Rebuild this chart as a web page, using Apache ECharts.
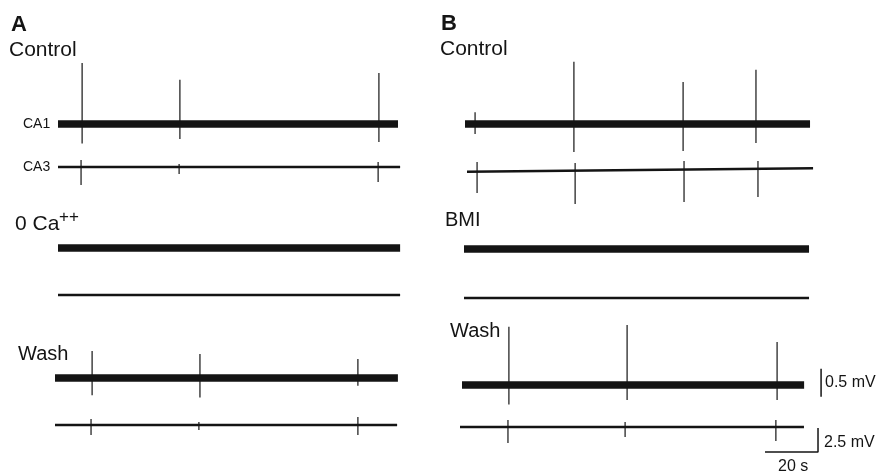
<!DOCTYPE html>
<html>
<head>
<meta charset="utf-8">
<script src="https://cdn.jsdelivr.net/npm/echarts@6/dist/echarts.min.js"></script>
<style>
html, body { margin: 0; background: #fff; }
#chart { width: 877px; height: 472px; }
</style>
</head>
<body>
<div id="chart"></div>
<script>
// times in s, amplitudes in mV (CA1 field, CA3 field)
var sweepDurA = [128.3, 129.1, 129.1, 129.1, 129.4, 129.1];
var sweepDurB = [130.2, 130.6, 130.2, 130.2, 129.1, 129.8];

// A - Control
var aCtrlCA1T = [9.1, 46.0, 121.1];
var aCtrlCA1Hi = [1.09, 0.79, 0.91];
var aCtrlCA1Lo = [-0.35, -0.27, -0.32];
var aCtrlCA3T = [8.7, 45.7, 120.8];
var aCtrlCA3Hi = [0.73, 0.32, 0.52];
var aCtrlCA3Lo = [-1.88, -0.73, -1.56];
// A - Wash
var aWashCA1T = [14.0, 54.7, 114.3];
var aWashCA1Hi = [0.48, 0.43, 0.34];
var aWashCA1Lo = [-0.31, -0.35, -0.14];
var aWashCA3T = [13.6, 54.3, 114.3];
var aWashCA3Hi = [0.62, 0.32, 0.83];
var aWashCA3Lo = [-1.04, -0.52, -1.04];
// B - Control
var bCtrlCA1T = [3.8, 41.1, 82.3, 109.8];
var bCtrlCA1Hi = [0.21, 1.11, 0.75, 0.97];
var bCtrlCA1Lo = [-0.18, -0.50, -0.48, -0.34];
var bCtrlCA3T = [3.8, 40.8, 81.9, 109.8];
var bCtrlCA3Hi = [0.83, 0.73, 0.94, 0.94];
var bCtrlCA3Lo = [-2.4, -3.54, -3.33, -2.81];
// B - Wash
var bWashCA1T = [17.7, 62.3, 118.9];
var bWashCA1Hi = [1.04, 1.07, 0.77];
var bWashCA1Lo = [-0.35, -0.27, -0.27];
var bWashCA3T = [18.1, 62.3, 119.2];
var bWashCA3Hi = [0.73, 0.52, 0.73];
var bWashCA3Lo = [-1.67, -1.04, -1.46];

// baseline drift (start, end), mV
var flat = [0, 0];
var bCtrlCA3Drift = [-0.18, 0.18];

// scale bars
var barCA1 = 0.5;   // mV
var barCA3 = 2.5;   // mV
var barTime = 20;   // s

var PX_PER_S = 2.65;
var X_MAX = 140;
var FONT = "'Liberation Sans', Arial, Helvetica, sans-serif";
var INK = '#141414';

// grids must stay inside the 472px canvas
var kinds = {
  CA1: { range: 1.4, pxPerMv: 56, width: 7.5 },
  CA3: { range: 4, pxPerMv: 9.6, width: 2.4 }
};

var traces = [
  { left: 58, y: 124, kind: 'CA1', dur: sweepDurA[0], drift: flat, t: aCtrlCA1T, hi: aCtrlCA1Hi, lo: aCtrlCA1Lo },
  { left: 58, y: 167, kind: 'CA3', dur: sweepDurA[1], drift: flat, t: aCtrlCA3T, hi: aCtrlCA3Hi, lo: aCtrlCA3Lo },
  { left: 58, y: 248, kind: 'CA1', dur: sweepDurA[2], drift: flat },
  { left: 58, y: 295, kind: 'CA3', dur: sweepDurA[3], drift: flat },
  { left: 55, y: 378, kind: 'CA1', dur: sweepDurA[4], drift: flat, t: aWashCA1T, hi: aWashCA1Hi, lo: aWashCA1Lo },
  { left: 55, y: 425, kind: 'CA3', dur: sweepDurA[5], drift: flat, t: aWashCA3T, hi: aWashCA3Hi, lo: aWashCA3Lo },
  { left: 465, y: 124, kind: 'CA1', dur: sweepDurB[0], drift: flat, t: bCtrlCA1T, hi: bCtrlCA1Hi, lo: bCtrlCA1Lo },
  { left: 467, y: 170, kind: 'CA3', dur: sweepDurB[1], drift: bCtrlCA3Drift, t: bCtrlCA3T, hi: bCtrlCA3Hi, lo: bCtrlCA3Lo },
  { left: 464, y: 249, kind: 'CA1', dur: sweepDurB[2], drift: flat },
  { left: 464, y: 298, kind: 'CA3', dur: sweepDurB[3], drift: flat },
  { left: 462, y: 385, kind: 'CA1', dur: sweepDurB[4], drift: flat, t: bWashCA1T, hi: bWashCA1Hi, lo: bWashCA1Lo },
  { left: 460, y: 427, kind: 'CA3', dur: sweepDurB[5], drift: flat, t: bWashCA3T, hi: bWashCA3Hi, lo: bWashCA3Lo }
];

function spikeRender(params, api) {
  var a = api.coord([api.value(0), api.value(1)]);
  var b = api.coord([api.value(0), api.value(2)]);
  return {
    type: 'line',
    shape: { x1: a[0], y1: a[1], x2: b[0], y2: b[1] },
    style: { stroke: INK, lineWidth: 1.2 }
  };
}

var grids = [], xAxes = [], yAxes = [], series = [];
traces.forEach(function (tr, i) {
  var k = kinds[tr.kind];
  var h = 2 * k.range * k.pxPerMv;
  grids.push({ left: tr.left, top: tr.y - h / 2, width: X_MAX * PX_PER_S, height: h });
  xAxes.push({ type: 'value', gridIndex: i, min: 0, max: X_MAX, show: false });
  yAxes.push({ type: 'value', gridIndex: i, min: -k.range, max: k.range, show: false });
  series.push({
    type: 'line', xAxisIndex: i, yAxisIndex: i, showSymbol: false, silent: true,
    lineStyle: { color: INK, width: k.width, cap: 'butt' },
    data: [[0, tr.drift[0]], [tr.dur, tr.drift[1]]]
  });
  if (tr.t) {
    series.push({
      type: 'custom', xAxisIndex: i, yAxisIndex: i, silent: true,
      renderItem: spikeRender,
      data: tr.t.map(function (t, j) { return [t, tr.hi[j], tr.lo[j]]; })
    });
  }
});

// scale bars, drawn in the B Wash sweeps
var ca1BarT = 135.5, ca1BarLo = -0.21;
var ca3BarT = 135.1, ca3BarLo = -2.6;
series.push({
  type: 'line', xAxisIndex: 10, yAxisIndex: 10, showSymbol: false, silent: true,
  lineStyle: { color: INK, width: 1.5 },
  data: [[ca1BarT, ca1BarLo], [ca1BarT, ca1BarLo + barCA1]]
});
series.push({
  type: 'line', xAxisIndex: 11, yAxisIndex: 11, showSymbol: false, silent: true,
  lineStyle: { color: INK, width: 1.5 },
  data: [[ca3BarT - barTime, ca3BarLo], [ca3BarT, ca3BarLo], [ca3BarT, ca3BarLo + barCA3]]
});

function label(text, x, y, size, weight) {
  return {
    type: 'text', x: x, y: y, silent: true,
    style: { text: text, fill: INK, font: (weight || 'normal') + ' ' + size + 'px ' + FONT, verticalAlign: 'middle' }
  };
}

var option = {
  backgroundColor: '#fff',
  animation: false,
  grid: grids,
  xAxis: xAxes,
  yAxis: yAxes,
  series: series,
  graphic: [
    label('A', 11, 25, 22, 'bold'),
    label('Control', 9, 50, 21),
    label('CA1', 23, 124, 14),
    label('CA3', 23, 167, 14),
    label('0 Ca', 15, 224, 21),
    label('++', 59, 217, 17),
    label('Wash', 18, 354, 20),
    label('B', 441, 24, 22, 'bold'),
    label('Control', 440, 49, 21),
    label('BMI', 445, 220, 20),
    label('Wash', 450, 331, 20),
    label('0.5 mV', 825, 383, 16),
    label('2.5 mV', 824, 443, 16),
    label('20 s', 778, 467, 16)
  ]
};

var myChart = echarts.init(document.getElementById('chart'));
myChart.setOption(option);
</script>
</body>
</html>
